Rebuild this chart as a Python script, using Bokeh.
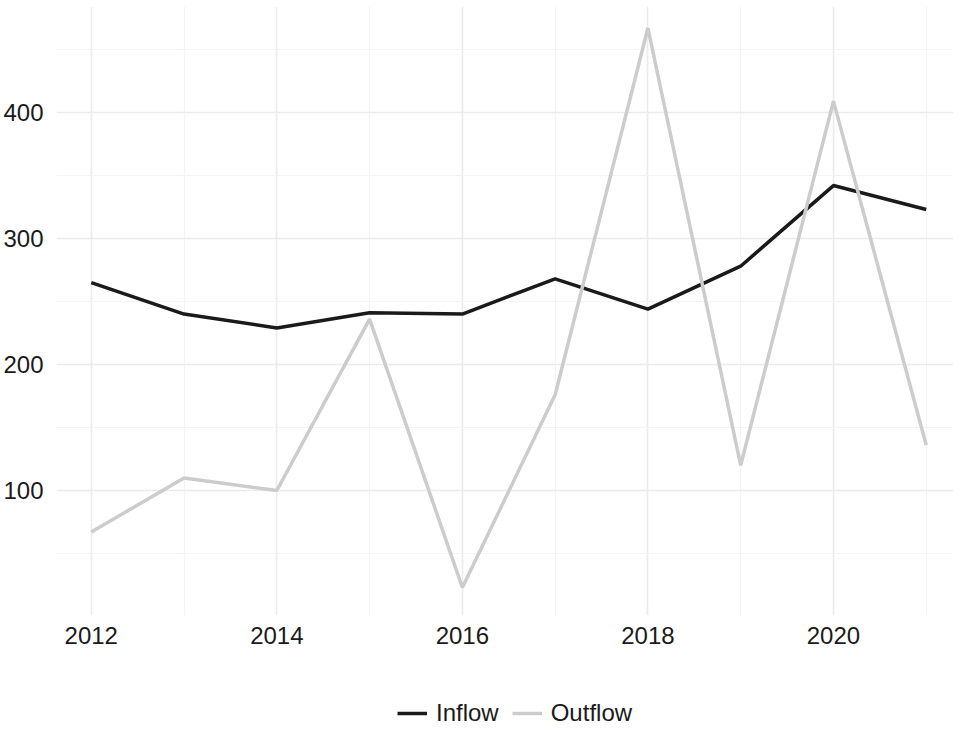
from bokeh.plotting import figure
from bokeh.models import Legend, LegendItem, Range1d, FixedTicker
from bokeh.layouts import column
from bokeh.embed import file_html
from bokeh.resources import INLINE

years = [2012, 2013, 2014, 2015, 2016, 2017, 2018, 2019, 2020, 2021]
inflow = [265, 240, 229, 241, 240, 268, 244, 278, 342, 323]
outflow = [67, 110, 100, 236, 23, 176, 467, 120, 409, 136]
x_ticks = [2012, 2014, 2016, 2018, 2020]
y_ticks = [100, 200, 300, 400]
series_names = ["Inflow", "Outflow"]
series_colors = ["#1a1a1a", "#cccccc"]

FONT = "Liberation Sans"

p = figure(width=953, height=657, output_backend="svg", toolbar_location=None,
           x_range=Range1d(2011.625, 2021.294), y_range=Range1d(0.8, 484.1),
           min_border_left=49, min_border_right=0, min_border_top=6, min_border_bottom=42)
p.outline_line_color = None
p.background_fill_color = "white"
p.border_fill_color = "white"

p.line(years, inflow, line_color=series_colors[0], line_width=3.5)
p.line(years, outflow, line_color=series_colors[1], line_width=3.5)

for ax in (p.xaxis[0], p.yaxis[0]):
    ax.axis_line_color = None
    ax.major_tick_line_color = None
    ax.minor_tick_line_color = None
    ax.major_label_text_font = FONT
    ax.major_label_text_font_size = "24px"
    ax.major_label_text_color = "#1a1a1a"

p.xaxis[0].ticker = FixedTicker(ticks=x_ticks, minor_ticks=[2013, 2015, 2017, 2019, 2021])
p.yaxis[0].ticker = FixedTicker(ticks=y_ticks, minor_ticks=[50, 150, 250, 350, 450])
p.xaxis[0].major_label_standoff = 5
p.yaxis[0].major_label_standoff = 7

p.xgrid.grid_line_color = "#ebebeb"
p.ygrid.grid_line_color = "#ebebeb"
p.xgrid.grid_line_width = 1.6
p.ygrid.grid_line_width = 1.6
p.xgrid.minor_grid_line_color = "#f4f4f4"
p.ygrid.minor_grid_line_color = "#f4f4f4"
p.xgrid.minor_grid_line_width = 1.2
p.ygrid.minor_grid_line_width = 1.2

# legend strip below the plot
lf = figure(width=953, height=70, output_backend="svg", toolbar_location=None,
            x_axis_type=None, y_axis_type=None,
            min_border_left=0, min_border_right=0, min_border_top=0, min_border_bottom=0,
            x_range=Range1d(0, 1), y_range=Range1d(0, 1))
lf.outline_line_color = None
lf.border_fill_color = "white"
lf.background_fill_color = "white"
items = []
for name, col in zip(series_names, series_colors):
    r = lf.line([0, 1], [-5, -5], line_color=col, line_width=3.5)
    items.append(LegendItem(label=name, renderers=[r]))

legend = Legend(items=items, orientation="horizontal", location=(341, 0))
legend.label_text_font = FONT
legend.label_text_font_size = "24px"
legend.label_text_color = "#1a1a1a"
legend.glyph_width = 30
legend.glyph_height = 16
legend.label_standoff = 9
legend.spacing = 13
legend.border_line_color = None
legend.background_fill_alpha = 0
legend.margin = 0
legend.padding = 0
legend.label_height = 16
lf.add_layout(legend, "center")

layout = column(p, lf, spacing=0)
open("out.html", "w").write(file_html(layout, INLINE))
